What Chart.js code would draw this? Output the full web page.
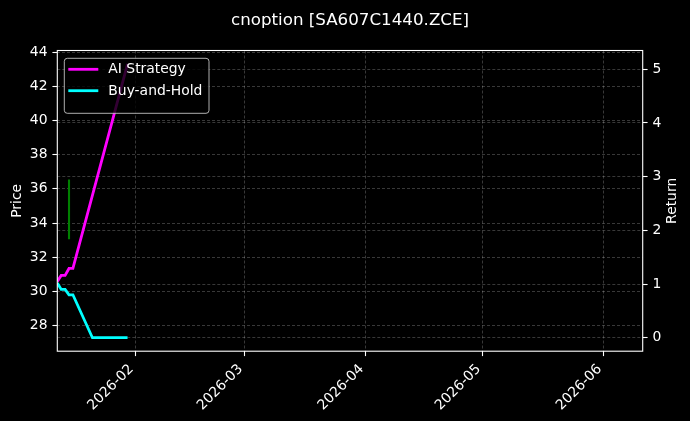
<!DOCTYPE html>
<html><head><meta charset="utf-8">
<script src="https://cdn.jsdelivr.net/npm/chart.js@4.4.1/dist/chart.umd.min.js"></script>
<style>html,body{margin:0;padding:0;background:#000;overflow:hidden}#wrap{width:690px;height:421px;position:relative}</style>
</head><body><div id="wrap"><canvas id="c"></canvas></div>
<script>
const titleText = 'cnoption [SA607C1440.ZCE]';
const priceAxisTitle = 'Price';
const returnAxisTitle = 'Return';

const strategyLabel = 'AI Strategy';
const strategyDates = ['2026-01-12','2026-01-13','2026-01-14','2026-01-15','2026-01-16','2026-01-30'];
const strategyValues = [1.05, 1.16, 1.16, 1.29, 1.29, 5.10];

const holdLabel = 'Buy-and-Hold';
const holdDates = ['2026-01-12','2026-01-13','2026-01-14','2026-01-15','2026-01-16','2026-01-21','2026-01-30'];
const holdValues = [1.02, 0.90, 0.90, 0.80, 0.80, 0.0, 0.0];

const priceLabel = 'Price';
const priceDates = ['2026-01-15','2026-01-15'];
const priceValues = [36.55, 33.05];

const monthTickLabels = ['2026-02','2026-03','2026-04','2026-05','2026-06'];
const priceTicks = [28,30,32,34,36,38,40,42,44];
const returnTicks = [0,1,2,3,4,5];
const xRange = ['2026-01-12','2026-06-11'];
const priceRange = [26.51, 44.088];
const returnRange = [-0.251, 5.35];

function dayNum(s){const p=s.split('-').map(Number);return Date.UTC(p[0],p[1]-1,p[2]||1)/86400000;}
function toPts(dates, vals){return dates.map((d,i)=>({x:dayNum(d),y:vals[i]}));}
const monthTickMap = {};
monthTickLabels.forEach(m=>{monthTickMap[dayNum(m+'-01')]=m;});

const FONT = 'DejaVu Sans';
const TICKPX = 13.9;
const gridColor = 'rgba(255,255,255,0.22)';

const plotBox = {left:57.3, right:642.7, top:50.5, bottom:351.2};

const decor = {
  id:'decor',
  afterDatasetsDraw(chart){
    const ctx=chart.ctx, a=chart.chartArea;
    ctx.save();
    ctx.strokeStyle='#ffffff'; ctx.lineWidth=1.1; ctx.setLineDash([]);
    ctx.strokeRect(a.left, a.top, a.right-a.left, a.bottom-a.top);
    const lx=64.3, ly=58.3, lw=144.7, lh=55, r=3;
    ctx.beginPath();
    ctx.moveTo(lx+r,ly);ctx.lineTo(lx+lw-r,ly);ctx.arcTo(lx+lw,ly,lx+lw,ly+r,r);
    ctx.lineTo(lx+lw,ly+lh-r);ctx.arcTo(lx+lw,ly+lh,lx+lw-r,ly+lh,r);
    ctx.lineTo(lx+r,ly+lh);ctx.arcTo(lx,ly+lh,lx,ly+lh-r,r);
    ctx.lineTo(lx,ly+r);ctx.arcTo(lx,ly,lx+r,ly,r);ctx.closePath();
    ctx.fillStyle='rgba(0,0,0,0.8)'; ctx.fill();
    ctx.strokeStyle='rgba(204,204,204,0.85)'; ctx.lineWidth=1; ctx.stroke();
    const items=[chart.data.datasets[0],chart.data.datasets[1]];
    const ys=[69.3,90.7];
    items.forEach((ds,i)=>{
      ctx.beginPath(); ctx.strokeStyle=ds.borderColor; ctx.lineWidth=2.8;
      ctx.moveTo(68.3,ys[i]); ctx.lineTo(98.3,ys[i]); ctx.stroke();
      ctx.fillStyle='#ffffff'; ctx.font=TICKPX+'px "'+FONT+'"';
      ctx.textAlign='left'; ctx.textBaseline='middle';
      ctx.fillText(ds.label,108.3,ys[i]+0.5);
    });
    ctx.restore();
  },
  afterDraw(chart){
    const ctx=chart.ctx, a=chart.chartArea;
    ctx.save();
    ctx.fillStyle='#ffffff';
    ctx.font='16.7px "'+FONT+'"'; ctx.textAlign='center'; ctx.textBaseline='alphabetic';
    ctx.fillText(titleText,(a.left+a.right)/2,25);
    ctx.font=TICKPX+'px "'+FONT+'"'; ctx.textBaseline='middle';
    const cy=(a.top+a.bottom)/2;
    ctx.translate(17,cy); ctx.rotate(-Math.PI/2); ctx.fillText(priceAxisTitle,0,0);
    ctx.restore();
    ctx.save();
    ctx.fillStyle='#ffffff'; ctx.font=TICKPX+'px "'+FONT+'"'; ctx.textAlign='center'; ctx.textBaseline='middle';
    ctx.translate(672,cy); ctx.rotate(-Math.PI/2); ctx.fillText(returnAxisTitle,0,0);
    ctx.restore();
  }
};

const tickCommon = {color:'#ffffff', font:{family:FONT,size:TICKPX}, padding:4.9};
const gridCommon = {color:gridColor, lineWidth:1, tickColor:'#ffffff', tickLength:4.9, tickWidth:1.1, tickBorderDash:[]};
const dashPattern = [3,2];

new Chart(document.getElementById('c'),{
  type:'line',
  data:{datasets:[
    {label:strategyLabel,data:toPts(strategyDates,strategyValues),yAxisID:'y1',borderColor:'#ff00ff',borderWidth:2.8,pointRadius:0,tension:0,order:1},
    {label:holdLabel,data:toPts(holdDates,holdValues),yAxisID:'y1',borderColor:'#00ffff',borderWidth:2.8,pointRadius:0,tension:0,order:2},
    {label:priceLabel,data:toPts(priceDates,priceValues),yAxisID:'y',borderColor:'#008000',borderWidth:2.1,pointRadius:0,tension:0,order:3}
  ]},
  options:{
    responsive:true, maintainAspectRatio:false, animation:false,
    layout:{padding:{top:plotBox.top,left:0,right:0,bottom:0}},
    plugins:{legend:{display:false},title:{display:false},tooltip:{enabled:false}},
    events:[],
    scales:{
      x:{type:'linear',min:dayNum(xRange[0]),max:dayNum(xRange[1]),
        afterBuildTicks:s=>{s.ticks=monthTickLabels.map(m=>({value:dayNum(m+'-01')}));},
        afterFit:s=>{s.height=421-plotBox.bottom;},
        ticks:Object.assign({},tickCommon,{autoSkip:false,maxRotation:45,minRotation:45,labelOffset:-4,callback:v=>monthTickMap[v]||''}),
        grid:Object.assign({},gridCommon),
        border:{display:false,dash:dashPattern}},
      y:{type:'linear',position:'left',min:priceRange[0],max:priceRange[1],
        afterBuildTicks:s=>{s.ticks=priceTicks.map(v=>({value:v}));},
        afterFit:s=>{s.width=plotBox.left;},
        ticks:Object.assign({},tickCommon,{callback:v=>String(v)}),
        grid:Object.assign({},gridCommon),
        border:{display:false,dash:dashPattern}},
      y1:{type:'linear',position:'right',min:returnRange[0],max:returnRange[1],
        afterBuildTicks:s=>{s.ticks=returnTicks.map(v=>({value:v}));},
        afterFit:s=>{s.width=690-plotBox.right;},
        ticks:Object.assign({},tickCommon,{callback:v=>String(v)}),
        grid:Object.assign({},gridCommon),
        border:{display:false,dash:dashPattern}}
    }
  },
  plugins:[decor]
});
</script></body></html>
